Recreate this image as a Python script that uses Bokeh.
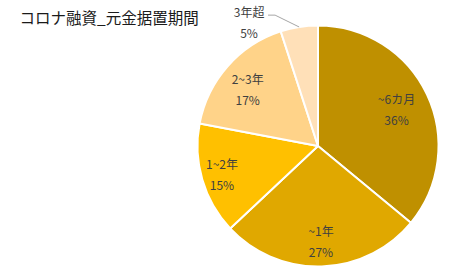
import math
from bokeh.plotting import figure
from bokeh.models import Range1d, ColumnDataSource
from bokeh.core.properties import value
from bokeh.embed import file_html
from bokeh.resources import INLINE

title = "コロナ融資_元金据置期間"
categories = ["~6カ月", "~1年", "1~2年", "2~3年", "3年超"]
shares = [36, 27, 15, 17, 5]

colors = ["#BF9000", "#E0A800", "#FFC000", "#FFD389", "#FFE0B8"]
label_r = [0.72, 0.79, 0.83, 0.75, 1.18]
label_dang = [0.0, 0.0, 0.0, 2.5, 20.0]
outside = [False, False, False, False, True]

W, H = 464, 278
cx, cy, R = 317.5, H - 145.5, 120.5
FONT = "Noto Sans CJK JP"

p = figure(width=W, height=H, output_backend="svg", toolbar_location=None,
           x_range=Range1d(0, W), y_range=Range1d(0, H), min_border=0)
p.axis.visible = False
p.grid.visible = False
p.outline_line_color = None
p.background_fill_color = "white"
p.border_fill_color = "white"

total = float(sum(shares))
starts, ends, mids = [], [], []
acc = 0.0
for s in shares:
    a0 = math.pi / 2 - acc / total * 2 * math.pi
    acc += s
    a1 = math.pi / 2 - acc / total * 2 * math.pi
    starts.append(a0)
    ends.append(a1)
    mids.append((a0 + a1) / 2)

src = ColumnDataSource(dict(x=[cx] * len(shares), y=[cy] * len(shares),
                            start=starts, end=ends, color=colors))
p.wedge(x="x", y="y", radius=R, start_angle="start", end_angle="end",
        direction="clock", fill_color="color", line_color="white",
        line_width=2, source=src)

gap = 10.5
nx, ny, px, py, names, pcts = [], [], [], [], [], []
for i, (c, s) in enumerate(zip(categories, shares)):
    ang = mids[i] + math.radians(label_dang[i])
    lx = cx + R * label_r[i] * math.cos(ang)
    ly = cy + R * label_r[i] * math.sin(ang)
    nx.append(lx); ny.append(ly + gap)
    px.append(lx); py.append(ly - gap)
    names.append(c); pcts.append(f"{s}%")
    if outside[i]:
        ex = cx + R * math.cos(mids[i])
        ey = cy + R * math.sin(mids[i])
        tx = lx + 19
        p.line([tx, tx + 7, ex], [ly + gap - 4, ly + gap - 4, ey],
               line_color="#A6A6A6", line_width=1)

p.text(x=nx, y=ny, text=names, text_align="center", text_baseline="middle",
       text_font=value(FONT), text_font_size="12px", text_color="#404040")
p.text(x=px, y=py, text=pcts, text_align="center", text_baseline="middle",
       text_font=value(FONT), text_font_size="12px", text_color="#404040")

p.text(x=[19], y=[H - 16], text=[title], text_align="left", text_baseline="middle",
       text_font=value(FONT), text_font_size="15.5px", text_color="#1a1a1a")

open("out.html", "w").write(file_html(p, INLINE))
